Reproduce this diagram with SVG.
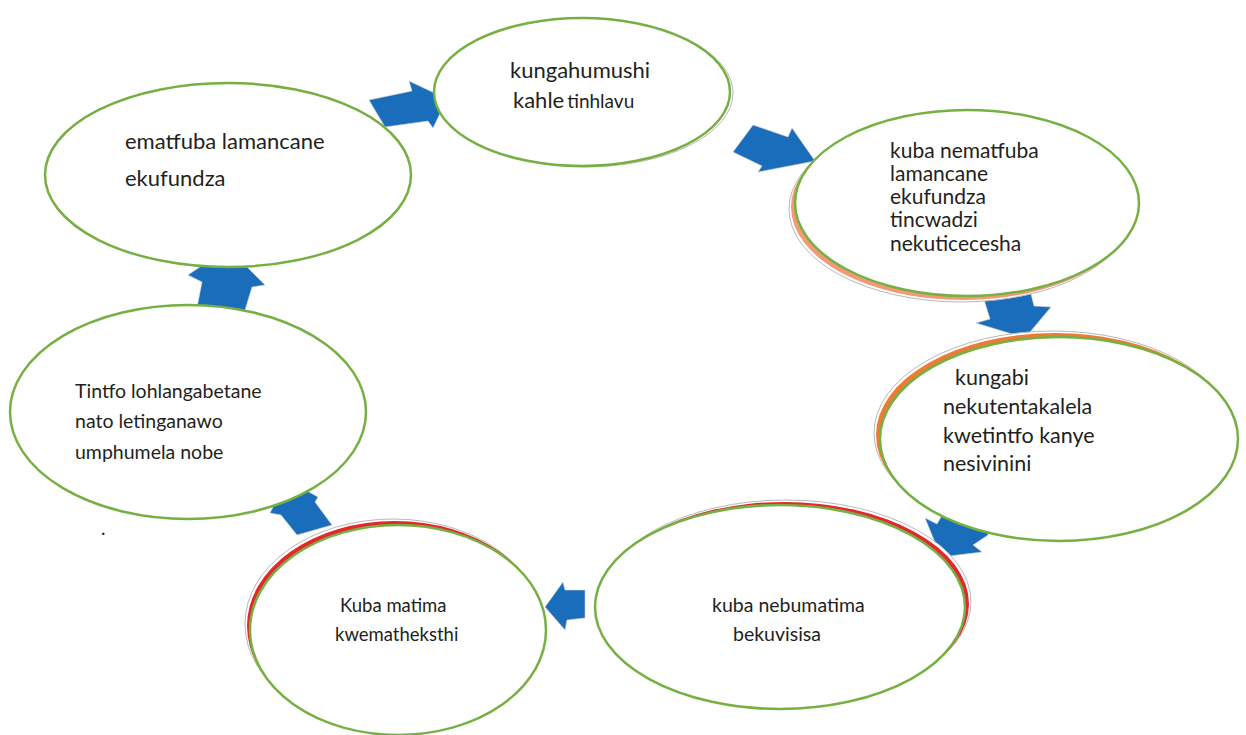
<svg xmlns="http://www.w3.org/2000/svg" width="1246" height="735" viewBox="0 0 1246 735">
<style>
.node{fill:#fff;stroke:#76b043;stroke-width:2.5}
.sh{fill:#fff;stroke:#b8b8b8;stroke-width:1}
.bandO{fill:#ee7b35;stroke:none}
.bandS{fill:#f29a78;stroke:none}
.bandR{fill:#e3272d;stroke:none}
.arr{fill:#1a6dba;stroke:#d0d0d0;stroke-width:0.6}
text{font-family:Lato,"Open Sans","Liberation Sans",sans-serif;fill:#231f20}
</style>
<rect width="1246" height="735" fill="#fff"/>
<g id="connectors">
<polygon class="arr" points="369,100 412,91 409,81 447,99 433,128 428,121 385,127"/>
<polygon class="arr" points="753,125 788,137 792,128 815,161 758,172 762,166 733,152"/>
<polygon class="arr" points="978,280 1027,278 1034,306 1051,307 1025,338 976,323 990,319"/>
<polygon class="arr" points="925,518 937,524 957,490 993,511 988,535 973,545 982,552 941,557"/>
<polygon class="arr" points="545,607 563,582 565,590 585,590 585,618 567,620 565,630"/>
<polygon class="arr" points="270,513 281,515 297,535 332,525 315,502 318,497 287,480"/>
<polygon class="arr" points="188,275 202,282 195,318 242,320 252,287 265,285 228,248"/>
</g>
<g id="node1">
<ellipse class="node" cx="228" cy="175" rx="183" ry="92"/>
<text font-size="22" x="125" y="149">ematfuba lamancane</text>
<text font-size="22" x="125" y="186">ekufundza</text>
</g>
<g id="node2">
<ellipse class="sh" cx="585" cy="93" rx="148" ry="74"/>
<ellipse class="node" cx="582" cy="92" rx="148" ry="74"/>
<text font-size="22" x="510" y="78">kungahumushi</text>
<text font-size="22" x="513" y="108">kahle<tspan font-size="19" dx="3">tinhlavu</tspan></text>
</g>
<g id="node3">
<ellipse class="sh" cx="961" cy="209" rx="172" ry="93"/>
<ellipse class="bandS" cx="963" cy="207" rx="172" ry="93"/>
<ellipse class="node" cx="967" cy="203" rx="172" ry="93"/>
<text font-size="21" x="890" y="158">kuba nematfuba</text>
<text font-size="21" x="890" y="181">lamancane</text>
<text font-size="21" x="890" y="204">ekufundza</text>
<text font-size="21" x="890" y="227">tincwadzi</text>
<text font-size="21" x="890" y="251">nekuticecesha</text>
</g>
<g id="node4">
<ellipse class="sh" cx="1053" cy="433" rx="179" ry="102"/>
<ellipse class="bandO" cx="1055" cy="435" rx="179" ry="102"/>
<ellipse class="node" cx="1059" cy="439" rx="179" ry="102"/>
<text font-size="21.5" x="955" y="385">kungabi</text>
<text font-size="21.5" x="943" y="414">nekutentakalela</text>
<text font-size="21.5" x="943" y="443">kwetintfo kanye</text>
<text font-size="21.5" x="943" y="471">nesivinini</text>
</g>
<g id="node5">
<ellipse class="sh" cx="786" cy="602" rx="185" ry="102"/>
<ellipse class="bandR" cx="784" cy="604" rx="185" ry="102"/>
<ellipse class="node" cx="780" cy="607" rx="185" ry="102"/>
<text font-size="19.5" x="712" y="612">kuba nebumatima</text>
<text font-size="19.5" x="733" y="641">bekuvisisa</text>
</g>
<g id="node6">
<ellipse class="sh" cx="393" cy="624" rx="148" ry="105"/>
<ellipse class="bandR" cx="395" cy="626" rx="148" ry="105"/>
<ellipse class="node" cx="398" cy="630" rx="148" ry="105"/>
<text font-size="18.5" x="340" y="612">Kuba matima</text>
<text font-size="18.5" x="335" y="641">kwematheksthi</text>
</g>
<g id="node7">
<ellipse class="node" cx="188" cy="412" rx="178" ry="107"/>
<text font-size="19.5" x="75" y="398">Tintfo lohlangabetane</text>
<text font-size="19.5" x="75" y="428">nato letinganawo</text>
<text font-size="19.5" x="75" y="459">umphumela nobe</text>
<text font-size="19" x="101" y="535">.</text>
</g>
</svg>
